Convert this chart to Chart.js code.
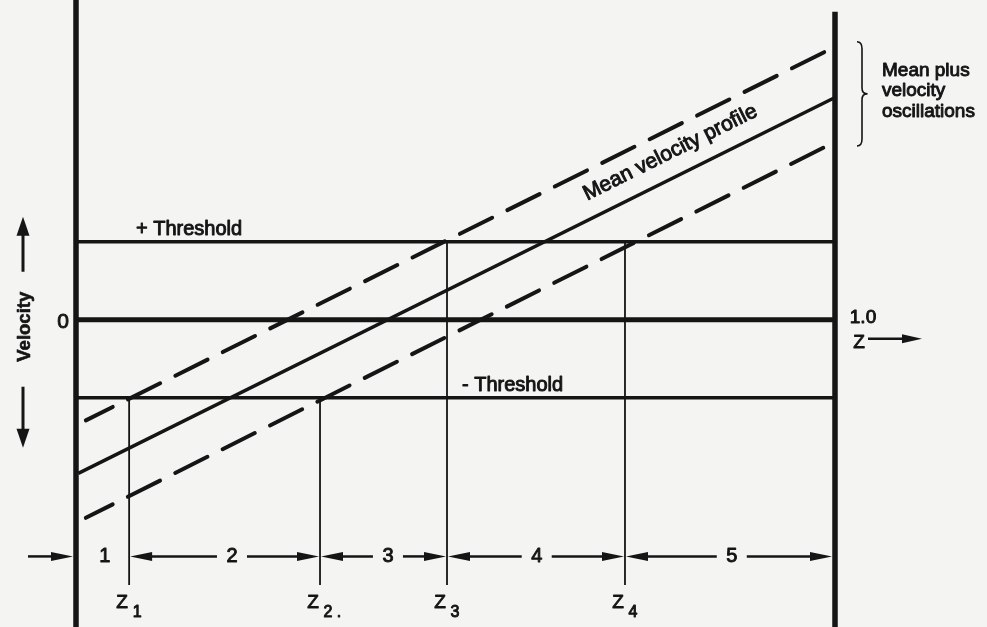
<!DOCTYPE html>
<html>
<head>
<meta charset="utf-8">
<script src="https://cdn.jsdelivr.net/npm/chart.js@4.4.1/dist/chart.umd.min.js"></script>
<style>
  html, body { margin: 0; padding: 0; background: #f4f4f2; }
  canvas { display: block; }
</style>
</head>
<body>
<canvas id="chart" width="987" height="627"></canvas>
<script>
// Depth coordinate Z runs from 0 (left wall) to 1.0 (right wall);
// velocity is expressed in units of the threshold velocity.
const profileZ = [0.003, 1.0];
const meanVelocity = [-1.97, 2.85];
const envelopeZ = [0.013, 1.0];
const upperOscillation = [-1.29, 3.50];
const lowerOscillation = [-2.54, 2.28];
const thresholdLevels = [1, -1];
const thresholdNames = ['+ Threshold', '- Threshold'];
const crossingZ = [0.070, 0.3215, 0.4888, 0.7233];
const crossingLevel = [-1, -1, 1, 1];
const crossingSubscripts = ['1', '2 .', '3', '4'];
const zoneNames = ['1', '2', '3', '4', '5'];
const zoneLabelZ = [0.038, 0.2055, 0.411, 0.607, 0.864];
const oscillationNote = ['Mean plus', 'velocity', 'oscillations'];

// Plotting range of the velocity axis and the rows used below the profile
const V_MIN = -3.94, V_MAX = 4.1;
const RIGHT_WALL_TOP = 3.95;
const MARK_BOTTOM = -3.40;
const ZONE_ROW = -3.035;
const NAME_ROW = -3.63;

const INK = '#151515';
const FONT = '"Liberation Sans", Arial, sans-serif';

const zoneBounds = [0, ...crossingZ, 1.0];
const seg = (xs, ys) => xs.map((x, i) => ({ x, y: ys[i] }));

function stroke(ctx, x1, y1, x2, y2, w) {
  ctx.beginPath();
  ctx.moveTo(x1, y1);
  ctx.lineTo(x2, y2);
  ctx.lineWidth = w;
  ctx.stroke();
}

function arrow(ctx, x1, y1, x2, y2, head, half, w) {
  const a = Math.atan2(y2 - y1, x2 - x1), c = Math.cos(a), s = Math.sin(a);
  const bx = x2 - c * head, by = y2 - s * head;
  stroke(ctx, x1, y1, bx + c * 3, by + s * 3, w);
  ctx.beginPath();
  ctx.moveTo(x2, y2);
  ctx.lineTo(bx - s * half, by + c * half);
  ctx.lineTo(bx + s * half, by - c * half);
  ctx.closePath();
  ctx.fill();
}

function label(ctx, str, x, y, size, align, baseline, bold) {
  ctx.font = (bold ? 'bold ' : '') + size + 'px ' + FONT;
  ctx.textAlign = align;
  ctx.textBaseline = baseline;
  ctx.lineJoin = 'round';
  ctx.fillText(str, x, y);
  ctx.lineWidth = bold ? 0.6 : 0.95;
  ctx.strokeText(str, x, y);
}

const annotations = {
  id: 'annotations',
  beforeDraw(chart) {
    const ctx = chart.ctx;
    ctx.save();
    ctx.fillStyle = '#f4f4f2';
    ctx.fillRect(0, 0, chart.width, chart.height);
    ctx.restore();
  },
  afterDatasetsDraw(chart) {
    const { ctx, scales: { x: sx, y: sy } } = chart;
    const X = v => sx.getPixelForValue(v);
    const Y = v => sy.getPixelForValue(v);
    ctx.save();
    ctx.fillStyle = INK;
    ctx.strokeStyle = INK;
    ctx.lineCap = 'butt';

    // threshold names
    label(ctx, thresholdNames[0], X(0.079), Y(thresholdLevels[0]) - 7, 20, 'left', 'alphabetic');
    label(ctx, thresholdNames[1], X(0.5086), Y(thresholdLevels[1]) - 7, 20, 'left', 'alphabetic');

    // velocity axis: zero mark, title and direction arrows
    label(ctx, '0', X(0) - 13, Y(0) + 2, 21, 'center', 'middle');
    const ax = X(0) - 53;
    ctx.save();
    ctx.translate(ax + 2, Y(0) + 7);
    ctx.rotate(-Math.PI / 2);
    label(ctx, 'Velocity', 0, 0, 18.5, 'center', 'middle', true);
    ctx.restore();
    arrow(ctx, ax, Y(0) - 48, ax, Y(0) - 103, 19, 6.5, 3);
    arrow(ctx, ax, Y(0) + 67, ax, Y(0) + 128, 19, 6.5, 3);

    // label along the mean profile
    const p0x = X(profileZ[0]), p0y = Y(meanVelocity[0]);
    const p1x = X(profileZ[1]), p1y = Y(meanVelocity[1]);
    const ang = Math.atan2(p1y - p0y, p1x - p0x);
    const t = (X(0.797) - p0x) / (p1x - p0x);
    const mx = p0x + t * (p1x - p0x), my = p0y + t * (p1y - p0y);
    const nx = Math.sin(ang), ny = -Math.cos(ang);
    ctx.save();
    ctx.translate(mx + nx * 18, my + ny * 18);
    ctx.rotate(ang);
    label(ctx, 'Mean velocity profile', 0, 0, 21, 'center', 'alphabetic');
    ctx.restore();

    // Z axis end label
    const rx = X(1);
    label(ctx, '1.0', rx + 28, Y(0) - 2, 19, 'center', 'middle');
    label(ctx, 'Z', rx + 24, Y(0) + 23, 19, 'center', 'middle');
    arrow(ctx, rx + 33, Y(0) + 19, rx + 87, Y(0) + 19, 20, 4.5, 2.5);

    // brace and note for the oscillation envelope
    const bx = rx + 27;
    const bt = Y(upperOscillation[1]) - 5, bb = Y(lowerOscillation[1]) + 4;
    const bm = (bt + bb) / 2;
    ctx.beginPath();
    ctx.moveTo(bx - 5, bt);
    ctx.quadraticCurveTo(bx, bt, bx, bt + 7);
    ctx.lineTo(bx, bm - 6);
    ctx.quadraticCurveTo(bx, bm, bx + 5, bm);
    ctx.quadraticCurveTo(bx, bm, bx, bm + 6);
    ctx.lineTo(bx, bb - 7);
    ctx.quadraticCurveTo(bx, bb, bx - 5, bb);
    ctx.lineWidth = 1.6;
    ctx.stroke();
    oscillationNote.forEach((s, i) => {
      label(ctx, s, rx + 47, bt + 34 + i * 20.5, 19, 'left', 'alphabetic');
    });

    // zones between the crossing depths
    const ry = Y(ZONE_ROW);
    arrow(ctx, X(0) - 48, ry, X(0) - 3, ry, 22, 4.5, 2.5);
    zoneNames.forEach((name, i) => {
      const cx = X(zoneLabelZ[i]);
      label(ctx, name, cx, ry, 20, 'center', 'middle');
      if (i === 0) return;
      const left = X(zoneBounds[i]) + 1;
      const right = X(zoneBounds[i + 1]) - (i === zoneNames.length - 1 ? 3 : 1);
      arrow(ctx, cx - 15, ry, left, ry, 22, 4.5, 2.5);
      arrow(ctx, cx + 15, ry, right, ry, 22, 4.5, 2.5);
    });

    // crossing depth names
    const ny2 = Y(NAME_ROW);
    crossingZ.forEach((z, i) => {
      const cx = X(z);
      label(ctx, 'Z', cx - 7, ny2, 19, 'center', 'middle');
      label(ctx, crossingSubscripts[i], cx + 3.5, ny2 + 10, 16, 'left', 'middle');
    });

    ctx.restore();
  }
};

const base = {
  showLine: true,
  pointRadius: 0,
  pointHoverRadius: 0,
  borderColor: INK,
  backgroundColor: INK,
  fill: false,
  tension: 0,
  clip: false
};
const dashed = { borderWidth: 4, borderDash: [36, 17], borderDashOffset: 6, borderCapStyle: 'round' };

const datasets = [
  { ...base, data: seg(profileZ, meanVelocity), borderWidth: 3.4 },
  { ...base, ...dashed, data: seg(envelopeZ, upperOscillation) },
  { ...base, ...dashed, data: seg(envelopeZ, lowerOscillation) },
  ...thresholdLevels.map(v => ({ ...base, data: [{ x: 0, y: v }, { x: 1, y: v }], borderWidth: 3.5 })),
  { ...base, data: [{ x: 0, y: 0 }, { x: 1, y: 0 }], borderWidth: 5 },
  ...crossingZ.map((z, i) => ({
    ...base, data: [{ x: z, y: crossingLevel[i] }, { x: z, y: MARK_BOTTOM }], borderWidth: 1.8
  })),
  { ...base, data: [{ x: 0, y: V_MIN }, { x: 0, y: V_MAX }], borderWidth: 5.5 },
  { ...base, data: [{ x: 1, y: V_MIN }, { x: 1, y: RIGHT_WALL_TOP }], borderWidth: 5.5 }
];

new Chart(document.getElementById('chart'), {
  type: 'scatter',
  data: { datasets },
  options: {
    responsive: false,
    devicePixelRatio: 1,
    animation: false,
    events: [],
    layout: { padding: { left: 76, right: 152, top: 0, bottom: 0 } },
    plugins: { legend: { display: false }, tooltip: { enabled: false } },
    scales: {
      x: { type: 'linear', min: 0, max: 1, display: false },
      y: { type: 'linear', min: V_MIN, max: V_MAX, display: false }
    }
  },
  plugins: [annotations]
});
</script>
</body>
</html>
